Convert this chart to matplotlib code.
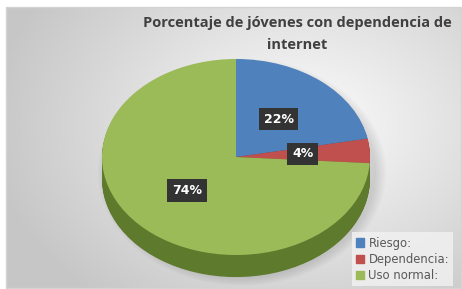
import numpy as np
import matplotlib
matplotlib.use('Agg')
import matplotlib.pyplot as plt
from matplotlib.patches import Ellipse, Rectangle, Patch

# data
labels = ['Riesgo:', 'Dependencia:', 'Uso normal:']
values = [22, 4, 74]
colors = ['#4f81bd', '#c0504d', '#9bbb59']
side_colors = ['#34577f', '#86322f', '#5e7a2d']
title = 'Porcentaje de jóvenes con dependencia de\ninternet'

W, H = 462, 289
fig = plt.figure(figsize=(W / 100, H / 100), dpi=100)

# background, pixel coordinates
bg = fig.add_axes([0, 0, 1, 1])
bg.set_xlim(0, W)
bg.set_ylim(H, 0)
bg.axis('off')
yy, xx = np.mgrid[0:H, 0:W]
d = np.sqrt(((xx - 300) / 300.0) ** 2 + ((yy - 120) / 220.0) ** 2)
grad = np.clip(0.99 - 0.2 * d, 0.78, 1.0)
img = np.dstack([grad, grad, grad])
bg.imshow(img, extent=(6, W, H, 7), aspect='auto', zorder=0)
bg.add_patch(Rectangle((6, 7), W - 7, H - 8, fill=False, ec='#d4d4d4', lw=1, zorder=1))
# soft shadow under the pie
for i in range(6):
    bg.add_patch(Ellipse((242, 172), 268 + i * 4, 212 + i * 3, color='black',
                         alpha=0.018, lw=0, zorder=1))

# pie axes: unit radius = 134 px wide, 98 px tall
ry = 98.0
left, right, top, bottom = 102, 370, 59, 279
ylo = 1 - (bottom - top) / ry
ax = fig.add_axes([left / W, (H - bottom) / H, (right - left) / W, (bottom - top) / H])

# thickness of the 3d pie
for dy in np.linspace(0.225, 0.01, 24):
    ax.pie(values, colors=side_colors, startangle=90, counterclock=False,
           center=(0, -dy), radius=1, frame=True,
           wedgeprops=dict(lw=0))
wedges, texts, autotexts = ax.pie(values, colors=colors, startangle=90, counterclock=False,
                                  center=(0, 0), radius=1, frame=True,
                                  autopct='%1.0f%%', pctdistance=0.5,
                                  wedgeprops=dict(lw=0),
                                  textprops=dict(color='white', fontsize=9, fontweight='bold'))
for t in autotexts:
    t.set_bbox(dict(boxstyle='square,pad=0.38', fc='#333333', ec='none'))
ax.set_aspect('auto')
ax.set_xlim(-1, 1)
ax.set_ylim(ylo, 1)
ax.axis('off')

fig.text(297 / W, 1 - 16 / H, title, ha='center', va='top', fontsize=10.5,
         fontweight='bold', color='#404040', linespacing=1.7, family='Open Sans')

handles = [Patch(color=c) for c in colors]
leg = fig.legend(handles, labels, loc='lower right', bbox_to_anchor=(459 / W, -3 / H),
                 fontsize=8.4, frameon=True, fancybox=False, handlelength=0.7,
                 handleheight=0.7, handletextpad=0.4, labelspacing=0.28,
                 borderpad=0.35, labelcolor='#595959')
leg.get_frame().set_facecolor('#f2f2f2')
leg.get_frame().set_edgecolor('none')
leg.get_frame().set_alpha(0.8)

fig.savefig('out.png', dpi=100)
